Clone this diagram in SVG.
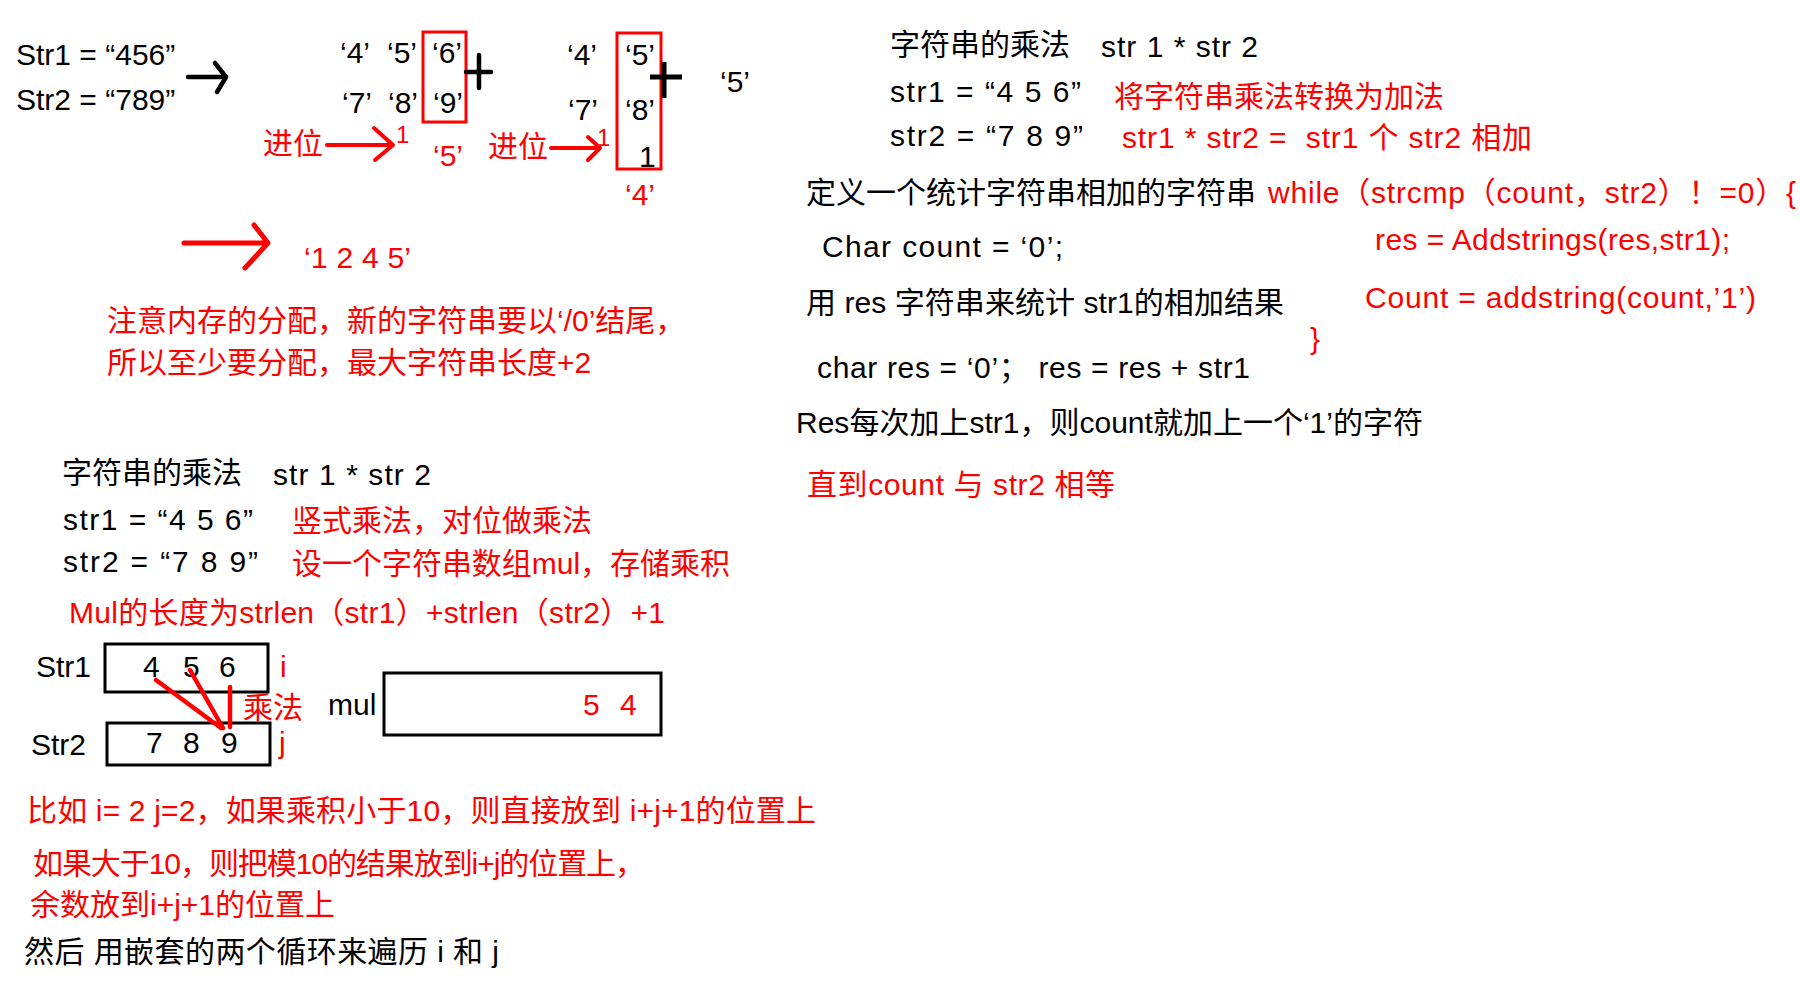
<svg xmlns="http://www.w3.org/2000/svg" width="1800" height="1000" viewBox="0 0 1800 1000">
<style>
text{font-family:"Liberation Sans","Noto Sans CJK SC",sans-serif;font-size:30px;fill:#000;white-space:pre}
.r{fill:#ff0000}
.box{fill:none;stroke:#000;stroke-width:3}
.rbox{fill:none;stroke:#ff0000;stroke-width:3}
.ar{fill:none;stroke:#ff0000;stroke-width:4;stroke-linecap:round;stroke-linejoin:round}
.ak{fill:none;stroke:#000;stroke-width:4.5;stroke-linecap:round;stroke-linejoin:round}
</style>
<rect width="1800" height="1000" fill="#fff"/>
<g id="addition-example">
<text x="16" y="65">Str1 = “456”</text>
<text x="16" y="110">Str2 = “789”</text>
<text x="340" y="63">‘4’</text><text x="387" y="63">‘5’</text><text x="432" y="63">‘6’</text>
<text x="342" y="113">‘7’</text><text x="388" y="113">‘8’</text><text x="433" y="113">‘9’</text>
<rect class="rbox" x="423" y="32" width="43" height="90"/>
<text class="r" x="263" y="154">进位</text>
<text class="r" x="396" y="143" style="font-size:24px">1</text>
<text class="r" x="433" y="166">‘5’</text>
<text x="567" y="65">‘4’</text><text x="625" y="65">‘5’</text>
<text x="568" y="120">‘7’</text><text x="625" y="120">‘8’</text>
<text x="639" y="167">1</text>
<rect class="rbox" x="617" y="33" width="44" height="136"/>
<text class="r" x="488" y="157">进位</text>
<text class="r" x="597" y="146" style="font-size:24px">1</text>
<text class="r" x="625" y="205">‘4’</text>
<text x="720" y="92">‘5’</text>
<text class="r" x="304" y="268" textLength="107" lengthAdjust="spacing">‘1 2 4 5’</text>
<text class="r" x="107" y="331">注意内存的分配，新的字符串要以‘/0’结尾，</text>
<text class="r" x="107" y="373">所以至少要分配，最大字符串长度+2</text>
</g>
<g id="multiplication-by-addition">
<text x="890" y="55">字符串的乘法</text>
<text x="1101" y="57" textLength="157" lengthAdjust="spacing">str 1 * str 2</text>
<text x="890" y="102" textLength="191" lengthAdjust="spacing">str1 = “4 5 6”</text>
<text class="r" x="1114" y="107">将字符串乘法转换为加法</text>
<text x="890" y="146" textLength="193" lengthAdjust="spacing">str2 = “7 8 9”</text>
<text class="r" x="1122" y="148" textLength="410" lengthAdjust="spacing">str1 * str2 =  str1 个 str2 相加</text>
<text x="806" y="203">定义一个统计字符串相加的字符串</text>
<text class="r" x="1268" y="203" textLength="528" lengthAdjust="spacing">while（strcmp（count，str2）！=0）{</text>
<text x="822" y="257" textLength="241" lengthAdjust="spacing">Char count = ‘0’;</text>
<text class="r" x="1375" y="250" textLength="355" lengthAdjust="spacing">res = Addstrings(res,str1);</text>
<text x="806" y="313" textLength="478" lengthAdjust="spacing">用 res 字符串来统计 str1的相加结果</text>
<text class="r" x="1365" y="308" textLength="391" lengthAdjust="spacing">Count = addstring(count,’1’)</text>
<text class="r" x="1310" y="349">}</text>
<text x="817" y="378" textLength="433" lengthAdjust="spacing">char res = ‘0’； res = res + str1</text>
<text x="796" y="433" textLength="627" lengthAdjust="spacing">Res每次加上str1，则count就加上一个‘1’的字符</text>
<text class="r" x="807" y="495" textLength="308" lengthAdjust="spacing">直到count 与 str2 相等</text>
</g>
<g id="vertical-multiplication">
<text x="62" y="483">字符串的乘法</text>
<text x="273" y="485" textLength="158" lengthAdjust="spacing">str 1 * str 2</text>
<text x="63" y="530" textLength="190" lengthAdjust="spacing">str1 = “4 5 6”</text>
<text class="r" x="292" y="531">竖式乘法，对位做乘法</text>
<text x="63" y="572" textLength="195" lengthAdjust="spacing">str2 = “7 8 9”</text>
<text class="r" x="292" y="574" textLength="438" lengthAdjust="spacing">设一个字符串数组mul，存储乘积</text>
<text class="r" x="69" y="623" textLength="596" lengthAdjust="spacing">Mul的长度为strlen（str1）+strlen（str2）+1</text>
</g>
<g id="str1-box">
<text x="36" y="677">Str1</text>
<rect class="box" x="105" y="644" width="163" height="48"/>
<text x="143" y="677">4</text><text x="183" y="677">5</text><text x="219" y="677">6</text>
<text class="r" x="280" y="677">i</text>
</g>
<g id="str2-box">
<text x="31" y="755">Str2</text>
<rect class="box" x="107" y="723" width="163" height="42"/>
<text x="146" y="753">7</text><text x="183" y="753">8</text><text x="221" y="753">9</text>
<text class="r" x="279" y="753">j</text>
</g>
<g id="mul-box">
<text x="328" y="715">mul</text>
<rect class="box" x="384" y="673" width="277" height="62"/>
<text class="r" x="583" y="715">5</text><text class="r" x="620" y="715">4</text>
</g>
<text class="r" x="243" y="718">乘法</text>
<g id="notes">
<text class="r" x="27" y="821" textLength="789" lengthAdjust="spacing">比如 i= 2 j=2，如果乘积小于10，则直接放到 i+j+1的位置上</text>
<text class="r" x="33" y="874" textLength="612" lengthAdjust="spacing">如果大于10，则把模10的结果放到i+j的位置上，</text>
<text class="r" x="30" y="915">余数放到i+j+1的位置上</text>
<text x="24" y="962" textLength="475" lengthAdjust="spacing">然后 用嵌套的两个循环来遍历 i 和 j</text>
</g>
<g id="connectors">
<path class="ak" d="M188 77H225M215 63L226 77L217 92"/>
<path class="ak" d="M466 72H491M479 55V88"/>
<path class="ak" d="M650 77H682M664 62V98" style="stroke-width:5;stroke-linecap:butt"/>
<path class="ar" d="M327 145H392M374 128L393 145L375 160"/>
<path class="ar" d="M551 148H598M588 137L600 148L588 160"/>
<path class="ar" d="M184 243H266M254 225L268 243L245 268" style="stroke-width:5"/>
<path class="ar" d="M156 680L221 728M190 670L223 728M230 687V727" style="stroke-width:4.5"/>
</g>
</svg>
